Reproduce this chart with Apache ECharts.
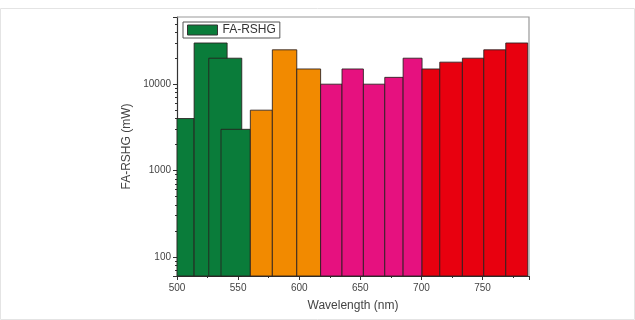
<!DOCTYPE html>
<html>
<head>
<meta charset="utf-8">
<script src="https://cdn.jsdelivr.net/npm/echarts@6/dist/echarts.min.js"></script>
<style>
  html, body { margin: 0; padding: 0; background: #fff; }
  #main { width: 635px; height: 320px; }
</style>
</head>
<body>
<div id="main"></div>
<script>
// each bar: [start nm, end nm, power mW]
const greenBars = [[500, 514, 4000], [514, 541, 30000], [526, 553, 20000], [536, 560, 3000]];
const orangeBars = [[560, 578, 5000], [578, 598, 25000], [598, 617.5, 15000]];
const pinkBars = [[617.5, 635, 10000], [635, 652.5, 15000], [652.5, 670, 10000], [670, 685, 12000], [685, 700.5, 20000]];
const redBars = [[700.5, 715, 15000], [715, 733.5, 18000], [733.5, 751, 20000], [751, 769, 25000], [769, 787, 30000]];
const xTicks = [500, 550, 600, 650, 700, 750];
const yTicks = [100, 1000, 10000];

const chart = echarts.init(document.getElementById("main"));

const renderBar = (params, api) => {
  const p0 = api.coord([api.value(0), api.value(2)]);
  const p1 = api.coord([api.value(1), 60]);
  return {
    type: "rect",
    shape: { x: p0[0], y: p0[1], width: p1[0] - p0[0], height: p1[1] - p0[1] },
    style: api.style({ stroke: "rgba(40,30,30,0.85)", lineWidth: 1 }),
  };
};

const makeSeries = (name, data, color) => ({
  name: name,
  type: "custom",
  renderItem: renderBar,
  itemStyle: { color: color, borderColor: "#333", borderWidth: 1 },
  encode: { x: [0, 1], y: 2 },
  data: data,
  silent: true,
});

const option = {
  animation: false,
  textStyle: { fontFamily: "Liberation Sans, Arial, sans-serif" },
  legend: {
    data: [{ name: "FA-RSHG", icon: "rect" }],
    left: 183,
    top: 22,
    itemWidth: 30,
    itemHeight: 10,
    itemGap: 4,
    padding: [2, 4, 2, 4],
    borderColor: "#555",
    borderWidth: 1,
    textStyle: { fontSize: 12, color: "#333" },
    itemStyle: { borderColor: "#333", borderWidth: 1 },
  },
  grid: { left: 177, right: 106, top: 17, bottom: 44 },
  xAxis: {
    type: "value",
    min: 500,
    max: 788,
    interval: 50,
    name: "Wavelength (nm)",
    nameLocation: "middle",
    nameGap: 24,
    nameTextStyle: { fontSize: 12, color: "#444" },
    axisLine: { show: true, lineStyle: { color: "#333", width: 1.2 } },
    axisTick: { show: true, length: 4, lineStyle: { color: "#333" } },
    minorTick: { show: true, splitNumber: 2, length: 2, lineStyle: { color: "#333" } },
    axisLabel: {
      fontSize: 10,
      color: "#444",
      margin: 7,
      formatter: (v) => (xTicks.includes(v) ? String(v) : ""),
    },
    splitLine: { show: false },
  },
  yAxis: {
    type: "log",
    logBase: 10,
    min: 60,
    max: 60000,
    name: "FA-RSHG (mW)",
    nameLocation: "middle",
    nameGap: 42,
    nameTextStyle: { fontSize: 12, color: "#444" },
    axisLine: { show: true, lineStyle: { color: "#333", width: 1.2 } },
    axisTick: { show: true, length: 4, lineStyle: { color: "#333" } },
    minorTick: { show: true, splitNumber: 9, length: 2, lineStyle: { color: "#333" } },
    axisLabel: {
      fontSize: 10,
      color: "#444",
      margin: 6,
      showMinLabel: false,
      showMaxLabel: false,
      formatter: (v) => (yTicks.includes(Math.round(v)) ? String(Math.round(v)) : ""),
    },
    splitLine: { show: false },
  },
  series: [
    makeSeries("FA-RSHG", greenBars, "#0a7c3a"),
    makeSeries("orange", orangeBars, "#f28a00"),
    makeSeries("pink", pinkBars, "#e6117f"),
    makeSeries("red", redBars, "#e8000f"),
  ],
};

chart.setOption(option);

// outer frame plus top and right lines of the plot box
const tl = chart.convertToPixel({ gridIndex: 0 }, [500, 60000]);
const br = chart.convertToPixel({ gridIndex: 0 }, [788, 60]);
chart.setOption({
  graphic: [
    {
      type: "rect",
      shape: { x: 0.5, y: 8.5, width: 634, height: 311 },
      style: { fill: "none", stroke: "#e4e4e4", lineWidth: 1 },
      silent: true,
    },
    {
      type: "polyline",
      shape: { points: [[tl[0], tl[1]], [br[0], tl[1]], [br[0], br[1]]] },
      style: { fill: "none", stroke: "#999", lineWidth: 1.2 },
      silent: true,
      z: 10,
    },
  ],
});

window.addEventListener("resize", () => {
  chart.resize();
});
</script>
</body>
</html>
